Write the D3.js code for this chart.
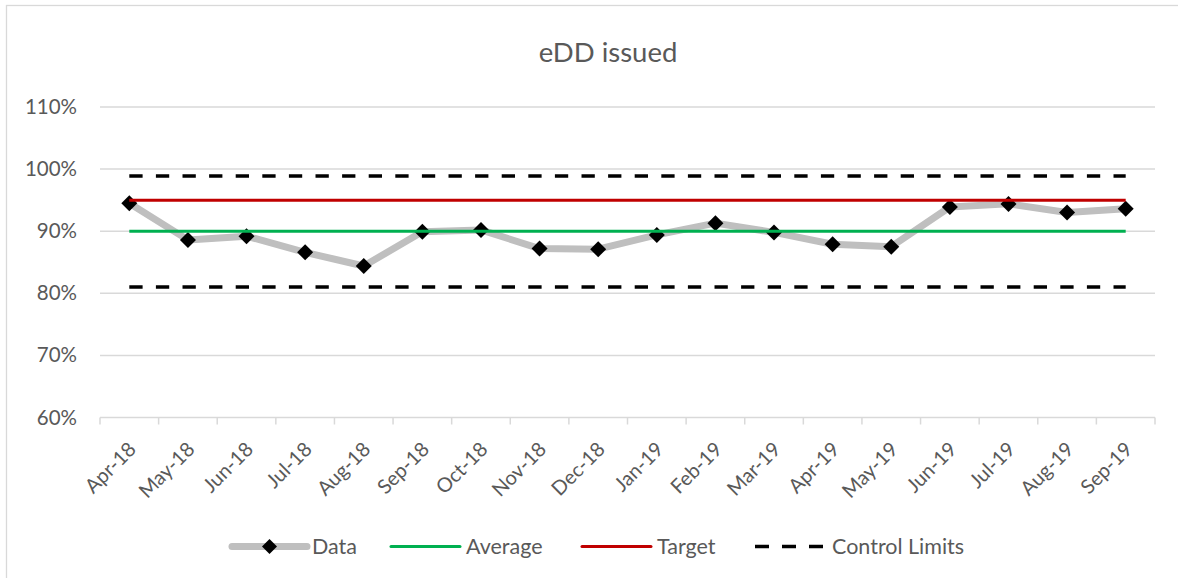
<!DOCTYPE html>
<html>
<head>
<meta charset="utf-8">
<script src="https://cdn.jsdelivr.net/npm/d3@7"></script>
<style>
  html, body { margin: 0; padding: 0; background: #fff; }
  svg { display: block; font-family: Lato, "Open Sans", sans-serif; }
</style>
</head>
<body>
<svg id="chart" width="1178" height="578"></svg>
<script>
// Monthly eDD issued rate with average, target and control limits
const months = ["Apr-18","May-18","Jun-18","Jul-18","Aug-18","Sep-18","Oct-18","Nov-18","Dec-18",
                "Jan-19","Feb-19","Mar-19","Apr-19","May-19","Jun-19","Jul-19","Aug-19","Sep-19"];
const dataValues = [0.945, 0.886, 0.892, 0.866, 0.844, 0.899, 0.902, 0.872, 0.871,
                    0.894, 0.913, 0.898, 0.879, 0.875, 0.939, 0.944, 0.930, 0.936];
const averageValues = months.map(() => 0.90);
const targetValues = months.map(() => 0.95);
const upperLimit = months.map(() => 0.989);
const lowerLimit = months.map(() => 0.81);
const yTicks = [0.6, 0.7, 0.8, 0.9, 1.0, 1.1];
const legendItems = ["Data", "Average", "Target", "Control Limits"];

const svg = d3.select("#chart");
const plot = { left: 100, right: 1155, top: 107, bottom: 417.5 };

// chart border
svg.append("rect")
  .attr("x", 6.5).attr("y", 5.5).attr("width", 1200).attr("height", 600)
  .attr("fill", "#fff").attr("stroke", "#d9d9d9").attr("stroke-width", 1.3);

const x = d3.scaleBand().domain(months).range([plot.left, plot.right]).padding(0);
const cx = d => x(d) + x.bandwidth() / 2;
const y = d3.scaleLinear().domain([0.6, 1.1]).range([plot.bottom, plot.top]);

// title
svg.append("text")
  .attr("x", 608).attr("y", 62)
  .attr("text-anchor", "middle")
  .attr("fill", "#595959")
  .attr("font-size", 27.5)
  .text("eDD issued");

// horizontal gridlines
svg.append("g").selectAll("line")
  .data(yTicks.slice(1))
  .join("line")
  .attr("x1", plot.left).attr("x2", plot.right)
  .attr("y1", d => y(d)).attr("y2", d => y(d))
  .attr("stroke", "#d9d9d9").attr("stroke-width", 1.5);

// y axis labels
const yAxis = d3.axisLeft(y).tickValues(yTicks).tickFormat(d3.format(".0%")).tickSize(0).tickPadding(0);
const gy = svg.append("g").attr("transform", `translate(77,0)`).call(yAxis);
gy.select(".domain").remove();
gy.selectAll("text").attr("fill", "#595959").attr("font-size", 20.5).attr("font-family", "Lato, sans-serif");

// x axis line with ticks between categories
const gx = svg.append("g");
gx.append("line")
  .attr("x1", plot.left).attr("x2", plot.right)
  .attr("y1", plot.bottom).attr("y2", plot.bottom)
  .attr("stroke", "#d9d9d9").attr("stroke-width", 1.5);
const boundaries = months.map(m => x(m)).concat([plot.right]);
gx.selectAll("line.tick")
  .data(boundaries)
  .join("line")
  .attr("class", "tick")
  .attr("x1", d => d).attr("x2", d => d)
  .attr("y1", plot.bottom).attr("y2", plot.bottom + 7)
  .attr("stroke", "#d9d9d9").attr("stroke-width", 1.5);

// rotated category labels
const xAxis = d3.axisBottom(x).tickSize(0).tickPadding(0);
const gxl = svg.append("g").attr("transform", `translate(0,${plot.bottom})`).call(xAxis);
gxl.select(".domain").remove();
gxl.selectAll(".tick text")
  .attr("fill", "#595959").attr("font-size", 20).attr("font-family", "Lato, sans-serif")
  .attr("text-anchor", "end")
  .attr("dy", null).attr("y", null)
  .attr("transform", "translate(8,33) rotate(-45)");

// data series
const line = d3.line().x((d, i) => cx(months[i])).y(d => y(d));
svg.append("path")
  .datum(dataValues)
  .attr("d", line)
  .attr("fill", "none").attr("stroke", "#bfbfbf").attr("stroke-width", 7)
  .attr("stroke-linejoin", "round");

const diamond = r => `M0,${-r}L${r},0L0,${r}L${-r},0Z`;
svg.append("g").selectAll("path")
  .data(dataValues)
  .join("path")
  .attr("transform", (d, i) => `translate(${cx(months[i])},${y(d)})`)
  .attr("d", diamond(8))
  .attr("fill", "#000");

// average, target, control limits
svg.append("path").datum(averageValues).attr("d", line)
  .attr("fill", "none").attr("stroke", "#00b050").attr("stroke-width", 3);
svg.append("path").datum(targetValues).attr("d", line)
  .attr("fill", "none").attr("stroke", "#c00000").attr("stroke-width", 3);
[upperLimit, lowerLimit].forEach(series => {
  svg.append("path").datum(series).attr("d", line)
    .attr("fill", "none").attr("stroke", "#000").attr("stroke-width", 3.5)
    .attr("stroke-dasharray", "13.3,13.3");
});

// legend
const legendY = 546.5;
const lg = svg.append("g");
const swatches = [
  { x1: 232, x2: 307, tx: 312, color: "#bfbfbf", w: 7, dash: null, marker: true },
  { x1: 391, x2: 460, tx: 466, color: "#00b050", w: 3, dash: null },
  { x1: 582, x2: 651, tx: 657, color: "#c00000", w: 3, dash: null },
  { x1: 755, x2: 824, tx: 832, color: "#000", w: 3.5, dash: "14,13" }
];
swatches.forEach((s, i) => {
  lg.append("line")
    .attr("x1", s.x1).attr("x2", s.x2).attr("y1", legendY).attr("y2", legendY)
    .attr("stroke", s.color).attr("stroke-width", s.w)
    .attr("stroke-linecap", s.dash ? "butt" : "round")
    .attr("stroke-dasharray", s.dash);
  if (s.marker) {
    lg.append("path")
      .attr("transform", `translate(${(s.x1 + s.x2) / 2},${legendY})`)
      .attr("d", diamond(7.5)).attr("fill", "#000");
  }
  lg.append("text")
    .attr("x", s.tx).attr("y", legendY)
    .attr("dy", "0.35em")
    .attr("fill", "#595959").attr("font-size", 21.5)
    .text(legendItems[i]);
});
</script>
</body>
</html>
